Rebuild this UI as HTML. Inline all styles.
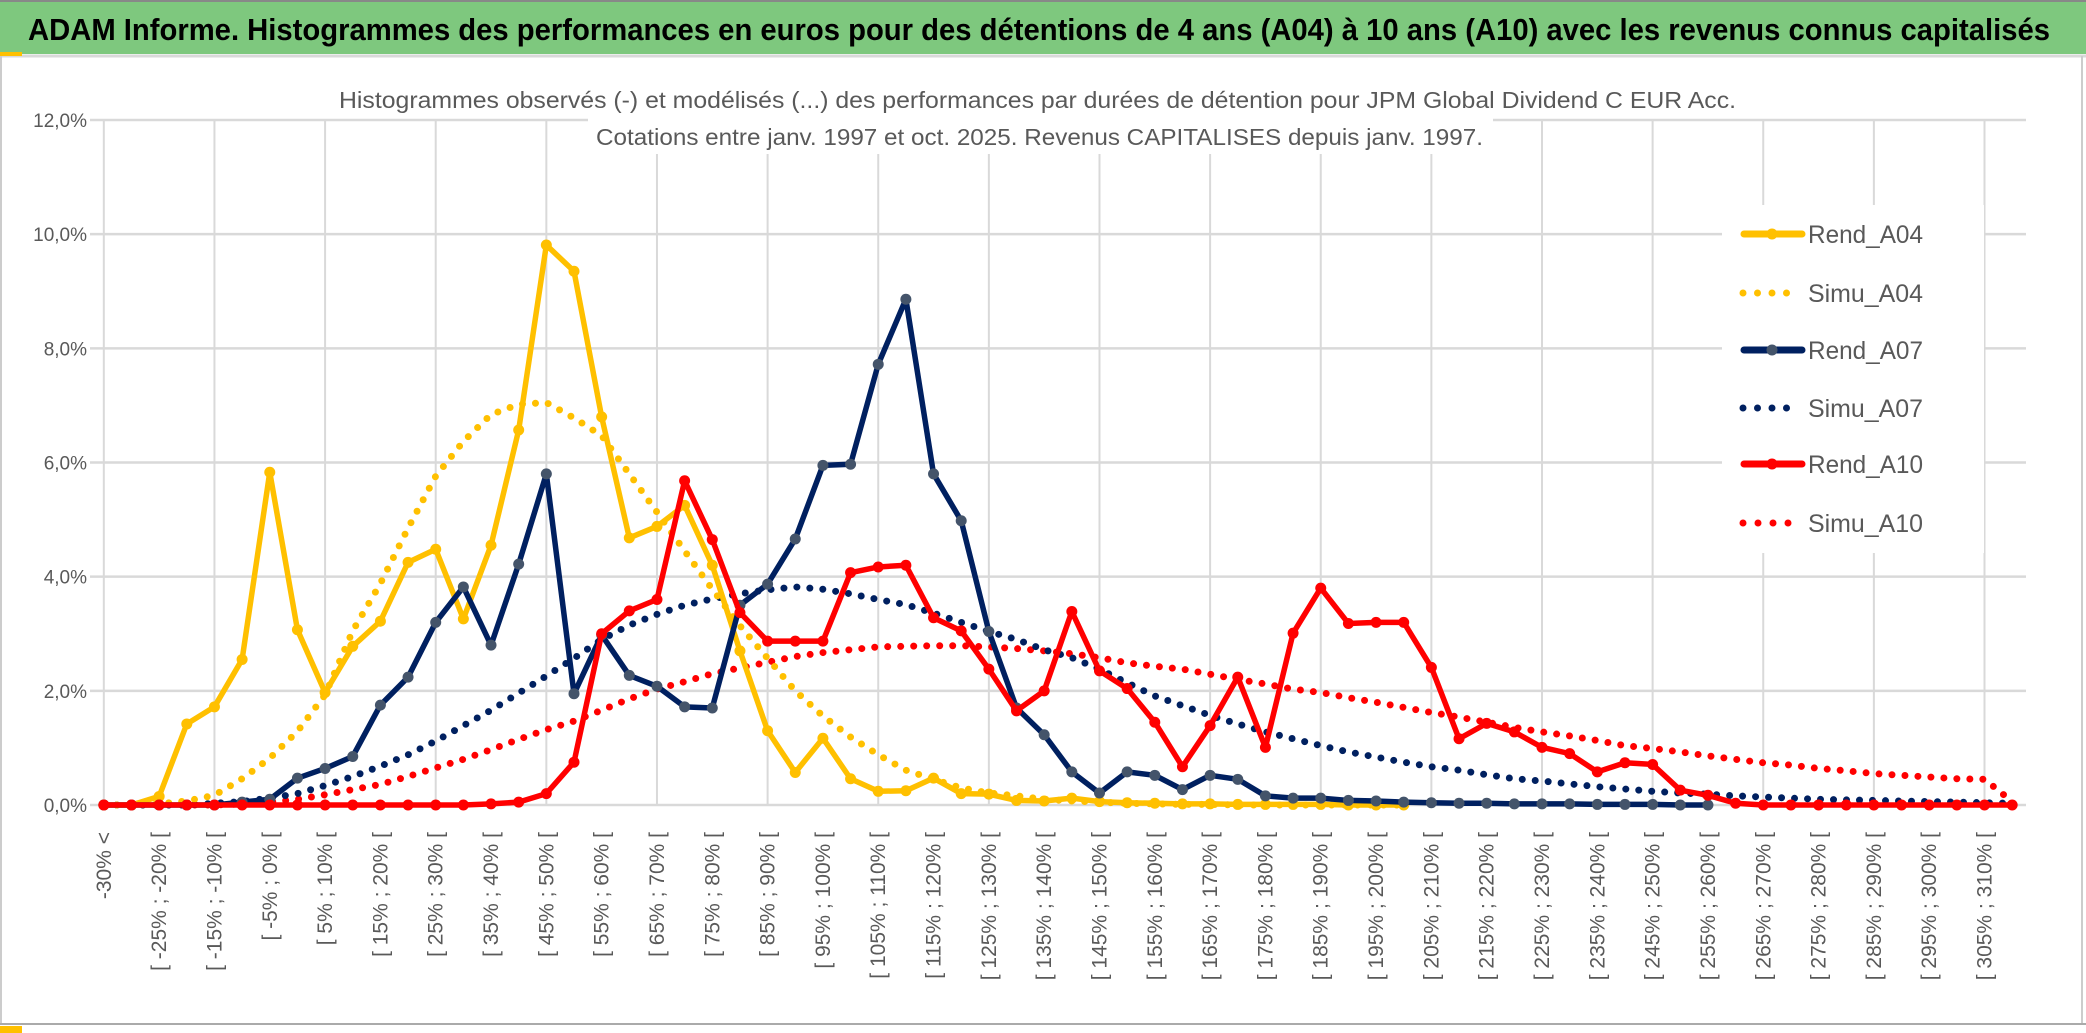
<!DOCTYPE html>
<html><head><meta charset="utf-8"><style>
html,body{margin:0;padding:0;background:#fff;}
svg{display:block;font-family:"Liberation Sans",sans-serif;}
</style></head><body>
<svg id="chart" width="2086" height="1033" viewBox="0 0 2086 1033" xmlns="http://www.w3.org/2000/svg">
<rect x="0" y="0" width="2086" height="1033" fill="#fff"/>
<rect x="0" y="0" width="2086" height="54" fill="#7ec87e"/>
<line x1="0" y1="1" x2="2086" y2="1" stroke="#888" stroke-width="2"/>
<line x1="0" y1="56" x2="2086" y2="56" stroke="#d9d9d9" stroke-width="3"/>
<rect x="0" y="52" width="22" height="4" fill="#ffc000"/>
<text x="28" y="40" font-size="31" font-weight="bold" fill="#000" textLength="2022" lengthAdjust="spacingAndGlyphs">ADAM Informe. Histogrammes des performances en euros pour des détentions de 4 ans (A04) à 10 ans (A10) avec les revenus connus capitalisés</text>
<line x1="1" y1="56" x2="1" y2="1024" stroke="#ccc" stroke-width="2"/>
<line x1="2082" y1="56" x2="2082" y2="1024" stroke="#ccc" stroke-width="2"/>
<line x1="0" y1="1024" x2="2086" y2="1024" stroke="#aaa" stroke-width="2"/>
<rect x="0" y="1026" width="22" height="7" fill="#ffc000"/>
<g id="grid"></g>
<rect x="330" y="84" width="1415" height="34" fill="#fff"/>
<rect x="588" y="118" width="905" height="36" fill="#fff"/>
<text x="339" y="108" font-size="23" fill="#595959" textLength="1397" lengthAdjust="spacingAndGlyphs">Histogrammes observés (-) et modélisés (...) des performances par durées de détention pour JPM Global Dividend C EUR Acc.</text>
<text x="596" y="145" font-size="23" fill="#595959" textLength="887" lengthAdjust="spacingAndGlyphs">Cotations entre janv. 1997 et oct. 2025. Revenus CAPITALISES depuis janv. 1997.</text>
<g id="yaxis"></g>
<g id="xaxis"></g>
<g id="series"></g>
<g id="legend"></g>
</svg>
<script>
const categories = (function(){const c=["-30% <"];for(let a=-30;a<315;a+=5){c.push("[ "+a+"% ; "+(a+5)+"% [");}return c.slice(0,70);})();
const yTicks = [0,2,4,6,8,10,12];
const yTickLabels = ["0,0%","2,0%","4,0%","6,0%","8,0%","10,0%","12,0%"];
const rendA04 = [0,0,0.15,1.42,1.72,2.55,5.83,3.07,1.97,2.78,3.22,4.25,4.48,3.26,4.55,6.57,9.81,9.35,6.8,4.68,4.88,5.25,4.2,2.7,1.3,0.57,1.17,0.46,0.24,0.25,0.47,0.2,0.19,0.08,0.07,0.12,0.06,0.04,0.03,0.02,0.02,0.01,0.01,0.01,0.01,0,0,0];
const simuA04 = [0,0,0.02,0.07,0.17,0.46,0.82,1.29,1.93,3.05,3.88,4.85,5.76,6.37,6.84,7.02,7.05,6.78,6.47,5.8,5.13,4.45,3.78,3.14,2.57,2.0,1.56,1.19,0.88,0.61,0.45,0.3,0.21,0.16,0.1,0.07,0.05,0.03,0.02,0.01,0.01,0,0,0,0,0,0,0];
const rendA07 = [0,0,0,0,0,0.05,0.1,0.47,0.64,0.85,1.75,2.24,3.2,3.82,2.8,4.22,5.8,1.95,2.98,2.27,2.08,1.72,1.7,3.5,3.87,4.66,5.95,5.97,7.72,8.86,5.8,4.98,3.04,1.7,1.23,0.58,0.21,0.58,0.52,0.27,0.52,0.45,0.16,0.12,0.12,0.08,0.07,0.05,0.04,0.03,0.03,0.02,0.02,0.02,0.01,0.01,0.01,0,0];
const simuA07 = [0,0,0,0,0.03,0.06,0.12,0.2,0.34,0.5,0.68,0.88,1.12,1.39,1.66,1.96,2.26,2.57,2.9,3.15,3.34,3.5,3.61,3.7,3.77,3.82,3.78,3.7,3.6,3.51,3.36,3.2,3.04,2.9,2.72,2.58,2.38,2.14,1.91,1.74,1.57,1.42,1.28,1.16,1.04,0.93,0.84,0.75,0.67,0.61,0.53,0.46,0.42,0.37,0.32,0.28,0.24,0.21,0.19,0.16,0.14,0.12,0.1,0.09,0.08,0.07,0.06,0.05,0.04,0.03];
const rendA10 = [0,0,0,0,0,0,0,0,0,0,0,0,0,0,0.02,0.05,0.2,0.75,3.0,3.4,3.6,5.68,4.65,3.37,2.87,2.87,2.87,4.07,4.17,4.2,3.28,3.05,2.38,1.65,2.0,3.39,2.35,2.04,1.45,0.67,1.39,2.24,1.01,3.01,3.8,3.18,3.2,3.2,2.41,1.16,1.43,1.28,1.01,0.9,0.58,0.74,0.71,0.26,0.17,0.03,0,0,0,0,0,0,0,0,0,0];
const simuA10 = [0,0,0,0,0,0.02,0.05,0.1,0.18,0.27,0.36,0.5,0.65,0.8,0.97,1.15,1.32,1.47,1.66,1.86,2.03,2.16,2.3,2.4,2.5,2.6,2.67,2.72,2.77,2.78,2.79,2.79,2.77,2.74,2.7,2.65,2.58,2.49,2.43,2.38,2.29,2.2,2.12,2.03,1.97,1.88,1.8,1.71,1.62,1.54,1.45,1.36,1.28,1.21,1.13,1.04,0.99,0.93,0.86,0.8,0.74,0.7,0.64,0.6,0.55,0.52,0.49,0.46,0.45,0.06];
const seriesNames = ["Rend_A04","Simu_A04","Rend_A07","Simu_A07","Rend_A10","Simu_A10"];

const NS="http://www.w3.org/2000/svg";
const L=90,R=2026,T=120,B=805,YMAX=12;
const cw=(R-L)/categories.length;
function xs(i){return L+cw*(i+0.5);}
function ys(v){return B-(v/YMAX)*(B-T);}
function mk(tag,attrs,parent){const e=document.createElementNS(NS,tag);for(const k in attrs)e.setAttribute(k,attrs[k]);parent.appendChild(e);return e;}

const grid=document.getElementById('grid');
yTicks.forEach((t,k)=>{
  const ln=mk('line',{x1:L,x2:R,y1:ys(t),y2:ys(t),stroke:'#d9d9d9','stroke-width':2.5},grid);
  
  
  const tx=mk('text',{x:87,y:ys(t)+7,'text-anchor':'end','font-size':19,fill:'#595959'},document.getElementById('yaxis'));
  tx.textContent=yTickLabels[k];
  
  
});
for(let i=0;i<categories.length;i+=4){
  const ln=mk('line',{x1:xs(i),x2:xs(i),y1:T,y2:B,stroke:'#d9d9d9','stroke-width':2},grid);
  
  
}
const xa=document.getElementById('xaxis');
for(let i=0;i<categories.length;i+=2){
  const x=xs(i)+7,y=832;
  const tx=mk('text',{x:x,y:y,'text-anchor':'end','font-size':21,fill:'#595959',transform:`rotate(-90 ${x} ${y})`},xa);
  tx.textContent=categories[i];
  
  
}
const sg=document.getElementById('series');
function drawDotted(data,color,name){
  const pts=data.map((v,i)=>xs(i)+','+ys(v)).join(' ');
  const p=mk('polyline',{points:pts,fill:'none',stroke:color,'stroke-width':7,'stroke-linecap':'round','stroke-dasharray':'0 13'},sg);
  
  
}
function drawSolid(data,color,mcolor,name){
  const pts=data.map((v,i)=>xs(i)+','+ys(v)).join(' ');
  const p=mk('polyline',{points:pts,fill:'none',stroke:color,'stroke-width':5.5,'stroke-linejoin':'round'},sg);
  
  
  data.forEach((v,i)=>{
    const c=mk('circle',{cx:xs(i),cy:ys(v),r:5.5,fill:mcolor},sg);
    
    
  });
}
drawDotted(simuA10,'#ff0000','simu-a10-line');
drawDotted(simuA07,'#002060','simu-a07-line');
drawDotted(simuA04,'#ffc000','simu-a04-line');
drawSolid(rendA04,'#ffc000','#ffc000','rend-a04-line');
drawSolid(rendA07,'#002060','#44546a','rend-a07-line');
drawSolid(rendA10,'#ff0000','#ff0000','rend-a10-line');

const lg=document.getElementById('legend');
mk('rect',{x:1722,y:205,width:262,height:348,fill:'#fff'},lg);
const lys=[234,293,350,408,464,523];
const lcolors=['#ffc000','#ffc000','#002060','#002060','#ff0000','#ff0000'];
const lmark=['#ffc000',null,'#44546a',null,'#ff0000',null];
seriesNames.forEach((n,k)=>{
  const y=lys[k];
  const g=mk('g',{},lg);
  
  
  if(lmark[k]){
    mk('line',{x1:1744,x2:1802,y1:y,y2:y,stroke:lcolors[k],'stroke-width':7,'stroke-linecap':'round'},g);
    mk('circle',{cx:1772,cy:y,r:5.5,fill:lmark[k]},g);
  } else {
    mk('line',{x1:1743,x2:(k==5?1802:1790),y1:y,y2:y,stroke:lcolors[k],'stroke-width':7,'stroke-linecap':'round','stroke-dasharray':(k==5?'0 15':'0 14.5')},g);
  }
  const t=mk('text',{x:1808,y:y+9,'font-size':25,fill:'#595959',textLength:115,lengthAdjust:'spacingAndGlyphs'},g);
  t.textContent=n;
});
</script>
</body></html>
